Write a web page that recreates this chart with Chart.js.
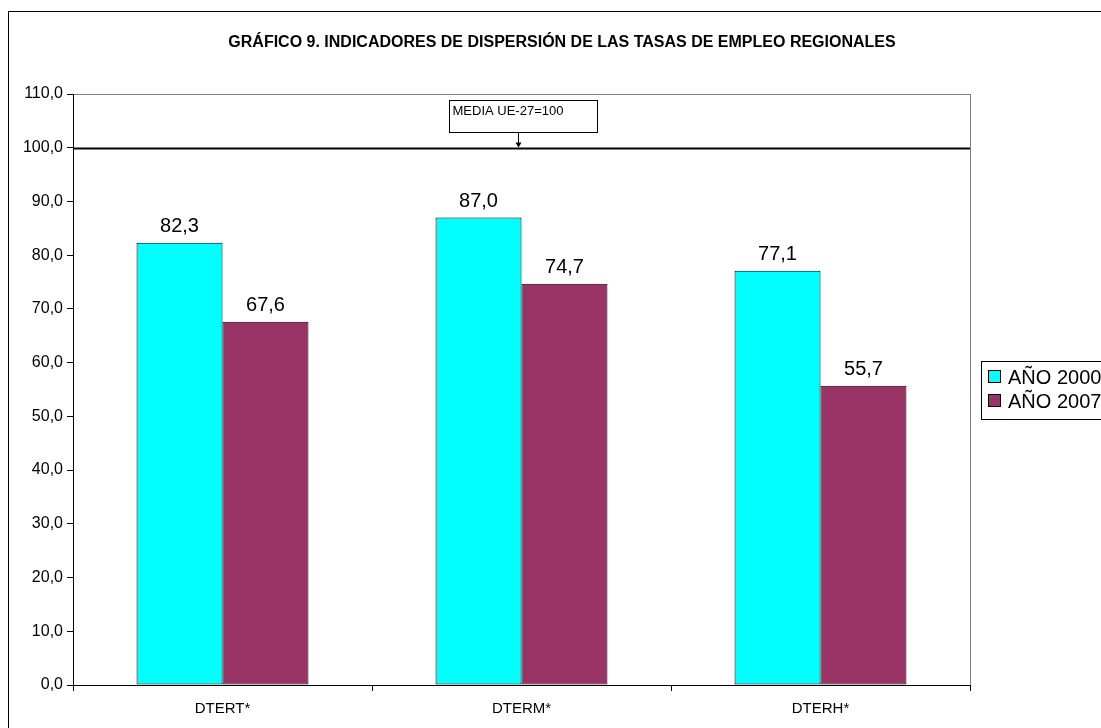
<!DOCTYPE html>
<html>
<head>
<meta charset="utf-8">
<script src="https://cdn.jsdelivr.net/npm/chart.js@4"></script>
<style>
  html, body { margin: 0; padding: 0; background: #fff; }
  #wrap { width: 1101px; height: 728px; position: relative; }
</style>
</head>
<body>
<div id="wrap"><canvas id="grafico"></canvas></div>
<script>
const categorias = ['DTERT*', 'DTERM*', 'DTERH*'];
const ano2000 = [82.3, 87.0, 77.1];
const ano2007 = [67.6, 74.7, 55.7];
const etiquetasSeries = ['AÑO 2000', 'AÑO 2007'];
const titulo = 'GRÁFICO 9. INDICADORES DE DISPERSIÓN DE LAS TASAS DE EMPLEO REGIONALES';
const mediaUE = 100;
const textoMedia = 'MEDIA UE-27=100';

const fmt = v => v.toFixed(1).replace('.', ',');
const fuente = 'Arial, "Liberation Sans"';

// frame, title, reference line, value labels and legend
const extras = {
    id: 'extras',
    beforeDraw(chart) {
        const ctx = chart.ctx;
        const a = chart.chartArea;
        ctx.save();
        ctx.fillStyle = '#fff';
        ctx.fillRect(0, 0, chart.width, chart.height);
        ctx.strokeStyle = '#000';
        ctx.lineWidth = 1;
        ctx.strokeRect(8.5, 11.5, 1200, 800);
        // plot area frame
        ctx.strokeStyle = '#808080';
        ctx.strokeRect(a.left + 0.5, a.top + 0.5, a.right - a.left, a.bottom - a.top);
        ctx.restore();
    },
    afterDraw(chart) {
        const ctx = chart.ctx;
        const a = chart.chartArea;
        const y = chart.scales.y;
        ctx.save();
        // title
        ctx.fillStyle = '#000';
        ctx.font = 'bold 16px ' + fuente;
        ctx.textAlign = 'center';
        ctx.textBaseline = 'alphabetic';
        ctx.fillText(titulo, 562, 47);

        // media line
        const ym = Math.round(y.getPixelForValue(mediaUE)) + 0.5;
        ctx.strokeStyle = '#000';
        ctx.lineWidth = 2;
        ctx.beginPath();
        ctx.moveTo(a.left, ym);
        ctx.lineTo(a.right, ym);
        ctx.stroke();

        // annotation box
        const bx = a.left + 376.5, by = 100.5, bw = 148, bh = 32;
        ctx.lineWidth = 1;
        ctx.fillStyle = '#fff';
        ctx.fillRect(bx, by, bw, bh);
        ctx.strokeRect(bx, by, bw, bh);
        ctx.fillStyle = '#000';
        ctx.font = '13px ' + fuente;
        ctx.textAlign = 'left';
        ctx.textBaseline = 'alphabetic';
        ctx.fillText(textoMedia, bx + 3, by + 14);
        const ax = a.left + 445.5;
        ctx.beginPath();
        ctx.moveTo(ax, by + bh);
        ctx.lineTo(ax, ym - 5);
        ctx.stroke();
        ctx.beginPath();
        ctx.moveTo(ax - 3, ym - 6);
        ctx.lineTo(ax + 3, ym - 6);
        ctx.lineTo(ax, ym - 1);
        ctx.closePath();
        ctx.fill();

        // value labels
        ctx.font = '20px ' + fuente;
        ctx.textAlign = 'center';
        ctx.textBaseline = 'alphabetic';
        chart.data.datasets.forEach((ds, i) => {
            chart.getDatasetMeta(i).data.forEach((bar, j) => {
                ctx.fillText(fmt(ds.data[j]), bar.x, bar.y - 11);
            });
        });

        // legend
        ctx.strokeStyle = '#000';
        ctx.strokeRect(981.5, 361.5, 140, 58);
        ctx.font = '20px ' + fuente;
        ctx.textAlign = 'left';
        chart.data.datasets.forEach((ds, i) => {
            const ly = 377 + i * 24;
            ctx.fillStyle = ds.backgroundColor;
            ctx.fillRect(988.5, ly - 6.5, 12, 12);
            ctx.strokeRect(988.5, ly - 6.5, 12, 12);
            ctx.fillStyle = '#000';
            ctx.fillText(ds.label, 1008, ly + 7);
        });
        ctx.restore();
    }
};

const data = {
    labels: categorias,
    datasets: [{
        label: etiquetasSeries[0],
        data: ano2000,
        backgroundColor: '#00FFFF',
        borderColor: '#000',
        borderWidth: 1,
        borderSkipped: false
    }, {
        label: etiquetasSeries[1],
        data: ano2007,
        backgroundColor: '#993366',
        borderColor: '#000',
        borderWidth: 1,
        borderSkipped: false
    }]
};

const config = {
    type: 'bar',
    data: data,
    options: {
        animation: false,
        responsive: true,
        maintainAspectRatio: false,
        layout: {
            padding: { left: 8, right: 131, top: 94, bottom: 0 }
        },
        datasets: {
            bar: { categoryPercentage: 0.575, barPercentage: 1.0 }
        },
        plugins: {
            legend: { display: false },
            title: { display: false },
            tooltip: { enabled: false }
        },
        scales: {
            x: {
                afterFit: s => { s.height = 43; },
                border: { color: '#000', width: 1 },
                grid: {
                    offset: true,
                    drawOnChartArea: false,
                    drawTicks: true,
                    tickLength: 6,
                    color: '#000'
                },
                ticks: {
                    color: '#000',
                    font: { family: fuente, size: 15 },
                    padding: 9
                }
            },
            y: {
                min: 0,
                max: 110,
                afterFit: s => { s.width = 65; },
                border: { color: '#000', width: 1 },
                grid: {
                    drawOnChartArea: false,
                    drawTicks: true,
                    tickLength: 6,
                    color: '#000'
                },
                ticks: {
                    stepSize: 10,
                    color: '#000',
                    font: { family: fuente, size: 16 },
                    padding: 4,
                    callback: v => fmt(v)
                }
            }
        }
    },
    plugins: [extras]
};

const ctx = document.getElementById('grafico').getContext('2d');
const myChart = new Chart(ctx, config);
</script>
</body>
</html>
